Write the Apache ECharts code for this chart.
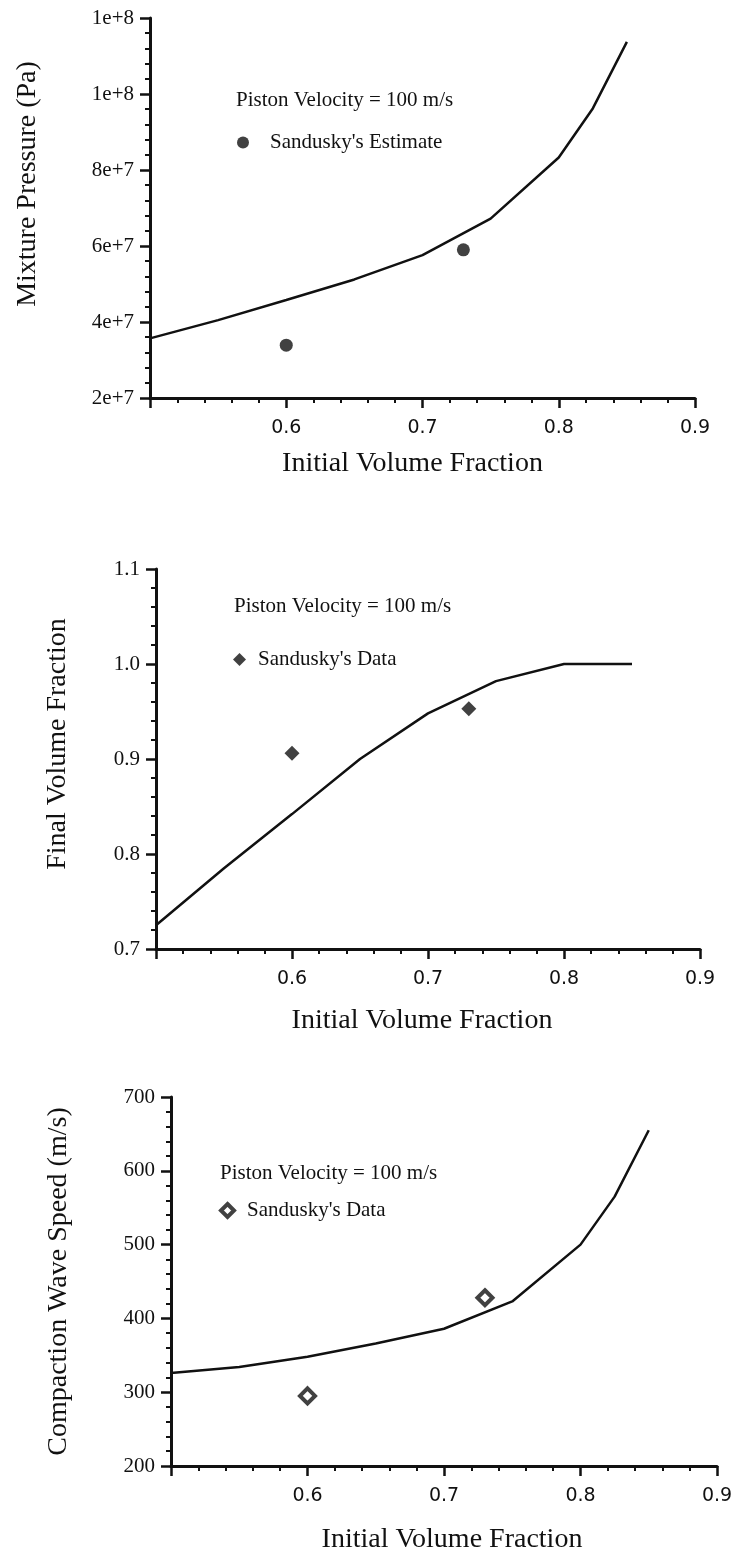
<!DOCTYPE html>
<html>
<head>
<meta charset="utf-8">
<script src="https://cdn.jsdelivr.net/npm/echarts@6/dist/echarts.min.js"></script>
<style>
html,body{margin:0;padding:0;background:#ffffff;}
#chart{width:736px;height:1555px;}
</style>
</head>
<body>
<div id="chart"></div>
<script>
// ---- data ----
const xTickLabels = ['0.6', '0.7', '0.8', '0.9'];

// Chart 1: mixture pressure
const pressureX = [0.5, 0.55, 0.6, 0.65, 0.7, 0.75, 0.8, 0.825, 0.85];
const pressureModel = [3.57e7, 4.05e7, 4.58e7, 5.12e7, 5.76e7, 6.72e7, 8.33e7, 9.62e7, 11.37e7];
const pressureEstX = [0.6, 0.73];
const pressureEst = [3.39e7, 5.9e7];

// Chart 2: final volume fraction
const finalX = [0.5, 0.55, 0.6, 0.65, 0.7, 0.75, 0.8, 0.85];
const finalModel = [0.725, 0.785, 0.842, 0.9, 0.948, 0.982, 1.0, 1.0];
const finalDataX = [0.6, 0.73];
const finalData = [0.906, 0.953];

// Chart 3: compaction wave speed
const speedX = [0.5, 0.55, 0.6, 0.65, 0.7, 0.75, 0.8, 0.825, 0.85];
const speedModel = [326, 334, 348, 366, 386, 423, 500, 565, 655];
const speedDataX = [0.6, 0.73];
const speedData = [295, 428];

const noteText = 'Piston Velocity = 100 m/s';
const xName = 'Initial Volume Fraction';
const yNames = ['Mixture Pressure (Pa)', 'Final Volume Fraction', 'Compaction Wave Speed (m/s)'];
const legendNames = ["Sandusky's Estimate", "Sandusky's Data", "Sandusky's Data"];

// ---- styling ----
const INK = '#111111';
const SERIF = '"Liberation Serif", "Times New Roman", serif';
const SANS = '"DejaVu Sans", sans-serif';

function zip(xs, ys) { return xs.map((x, i) => [x, ys[i]]); }

function xAxis(gridIndex, gap, namePad) {
  return {
    type: 'value', gridIndex: gridIndex, min: 0.5, max: 0.9, interval: 0.1,
    name: xName, nameLocation: 'middle', nameGap: gap,
    nameTextStyle: { fontFamily: SERIF, fontSize: 28, color: INK, padding: namePad },
    axisLine: { show: true, onZero: false, lineStyle: { color: INK, width: 3 } },
    axisTick: { show: true, inside: false, length: 10, lineStyle: { color: INK, width: 2.5 } },
    minorTick: { show: true, splitNumber: 5, length: 5, lineStyle: { color: INK, width: 2 } },
    splitLine: { show: false },
    axisLabel: {
      showMinLabel: false, margin: 21, fontFamily: SANS, fontSize: 19, color: INK,
      formatter: v => { const s = v.toFixed(1); return xTickLabels.indexOf(s) >= 0 ? s : ''; }
    }
  };
}

function yAxis(gridIndex, min, max, interval, fmt, name, gap, namePad) {
  return {
    type: 'value', gridIndex: gridIndex, min: min, max: max, interval: interval,
    name: name, nameLocation: 'middle', nameGap: gap,
    nameTextStyle: { fontFamily: SERIF, fontSize: 28, color: INK, padding: namePad },
    axisLine: { show: true, onZero: false, lineStyle: { color: INK, width: 3 } },
    axisTick: { show: true, inside: false, length: 10, lineStyle: { color: INK, width: 2.5 } },
    minorTick: { show: true, splitNumber: 5, length: 5, lineStyle: { color: INK, width: 2 } },
    splitLine: { show: false },
    axisLabel: { margin: 16, fontFamily: SERIF, fontSize: 21, color: INK, formatter: fmt }
  };
}

const option = {
  backgroundColor: '#ffffff',
  animation: false,
  grid: [
    { left: 150, top: 18, width: 545, height: 380 },
    { left: 156, top: 569, width: 544, height: 380 },
    { left: 171, top: 1097, width: 546, height: 380 }
  ],
  title: [
    { text: noteText, left: 236, top: 90, padding: 0, textStyle: { fontFamily: SERIF, fontSize: 21, fontWeight: 'normal', color: INK } },
    { text: noteText, left: 234, top: 596, padding: 0, textStyle: { fontFamily: SERIF, fontSize: 21, fontWeight: 'normal', color: INK } },
    { text: noteText, left: 220, top: 1163, padding: 0, textStyle: { fontFamily: SERIF, fontSize: 21, fontWeight: 'normal', color: INK } }
  ],
  legend: [
    { data: [legendNames[0]], left: 237, top: 132, padding: 0, itemWidth: 12, itemHeight: 12,
      itemStyle: { color: INK, borderWidth: 0 },
      textStyle: { fontFamily: SERIF, fontSize: 21, color: INK, padding: [0, 0, 0, 16] } },
    { data: [legendNames[1]], left: 233, top: 649, padding: 0, itemWidth: 13, itemHeight: 13,
      itemStyle: { color: INK, borderWidth: 0 },
      textStyle: { fontFamily: SERIF, fontSize: 21, color: INK, padding: [0, 0, 0, 7] } },
    { data: [legendNames[2]], left: 219, top: 1200, padding: 0, itemWidth: 13, itemHeight: 13,
      itemStyle: { color: '#ffffff', borderColor: INK, borderWidth: 4 },
      textStyle: { fontFamily: SERIF, fontSize: 21, color: INK, padding: [0, 0, 0, 8] } }
  ],
  xAxis: [xAxis(0, 52, [0, 20, 0, 0]), xAxis(1, 58, [0, 12, 0, 0]), xAxis(2, 60, [0, 0, 0, 16])],
  yAxis: [
    yAxis(0, 2e7, 1.2e8, 2e7, v => Number(v).toExponential(0), yNames[0], 108, [0, 0, 0, 48]),
    yAxis(1, 0.7, 1.1, 0.1, v => Number(v).toFixed(1), yNames[1], 84, [0, 0, 0, 30]),
    yAxis(2, 200, 700, 100, v => String(Math.round(v)), yNames[2], 98, 0)
  ],
  series: [
    { type: 'line', name: 'Model P', xAxisIndex: 0, yAxisIndex: 0, data: zip(pressureX, pressureModel),
      showSymbol: false, lineStyle: { color: INK, width: 2.5 }, itemStyle: { color: INK } },
    { type: 'scatter', name: legendNames[0], xAxisIndex: 0, yAxisIndex: 0, data: zip(pressureEstX, pressureEst),
      symbol: 'circle', symbolSize: 13, itemStyle: { color: INK } },
    { type: 'line', name: 'Model F', xAxisIndex: 1, yAxisIndex: 1, data: zip(finalX, finalModel),
      showSymbol: false, lineStyle: { color: INK, width: 2.5 }, itemStyle: { color: INK } },
    { type: 'scatter', name: legendNames[1], xAxisIndex: 1, yAxisIndex: 1, data: zip(finalDataX, finalData),
      symbol: 'diamond', symbolSize: 15, itemStyle: { color: INK } },
    { type: 'line', name: 'Model S', xAxisIndex: 2, yAxisIndex: 2, data: zip(speedX, speedModel),
      showSymbol: false, lineStyle: { color: INK, width: 2.5 }, itemStyle: { color: INK } },
    { type: 'scatter', name: legendNames[2], xAxisIndex: 2, yAxisIndex: 2, data: zip(speedDataX, speedData),
      symbol: 'diamond', symbolSize: 15, itemStyle: { color: '#ffffff', borderColor: INK, borderWidth: 4 } }
  ]
};

const chart = echarts.init(document.getElementById('chart'), null, { renderer: 'canvas' });
chart.setOption(option);
</script>
</body>
</html>
